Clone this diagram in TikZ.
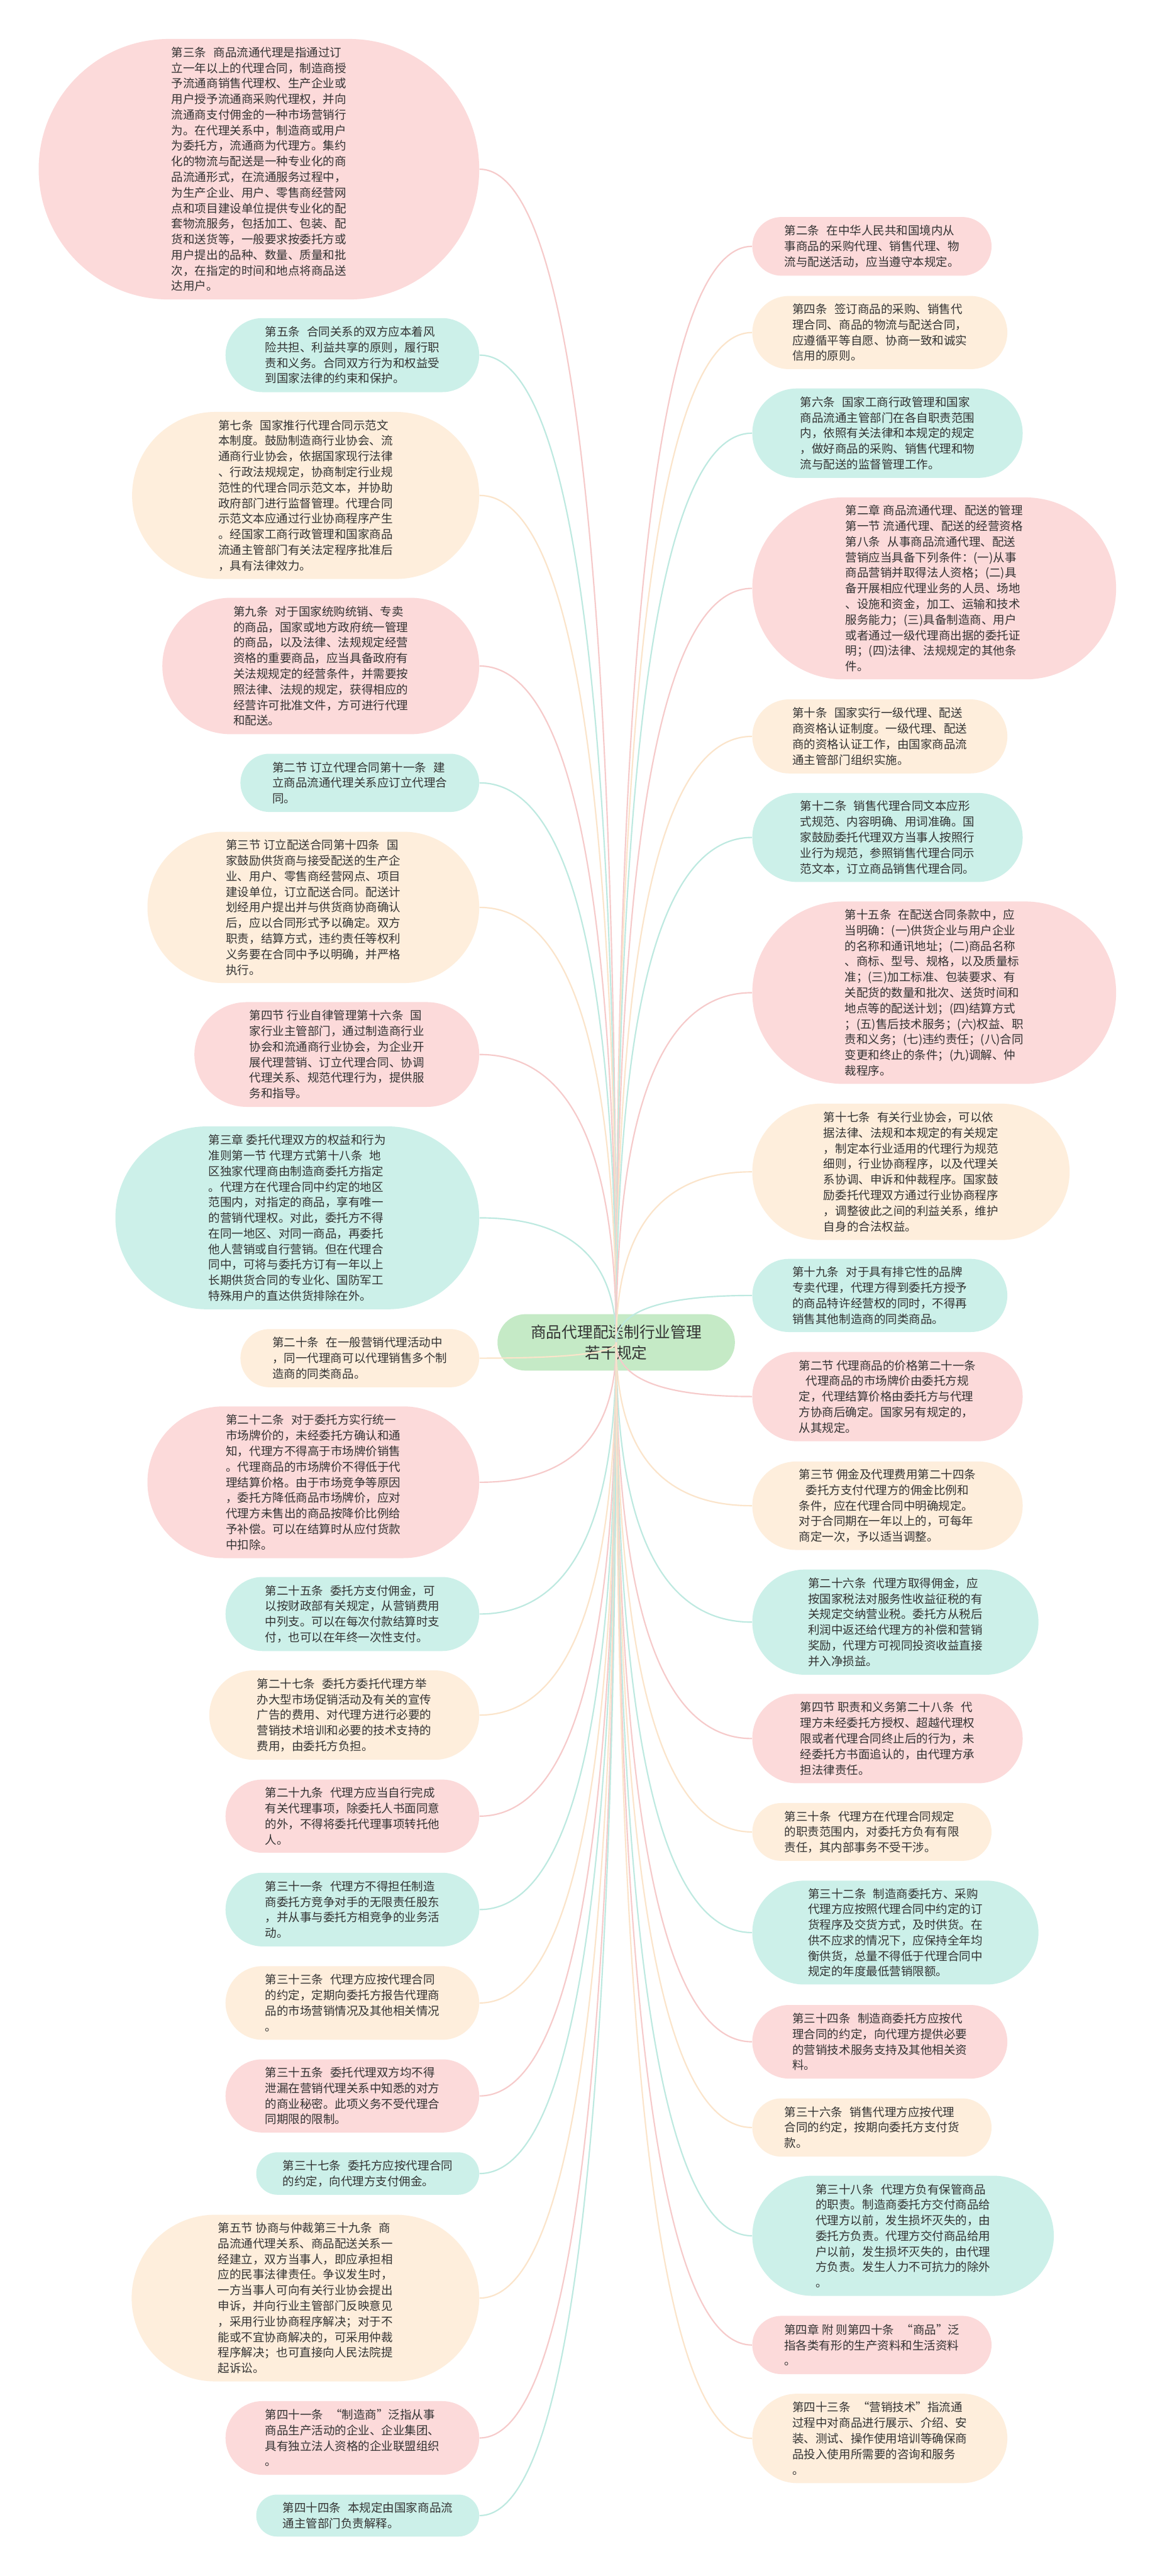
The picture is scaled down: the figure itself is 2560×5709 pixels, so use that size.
\documentclass[tikz,border=0pt]{standalone}
\usepackage{fontspec}
\setmainfont{Noto Sans CJK SC}
\usetikzlibrary{shapes.misc,calc}

\definecolor{pinkfill}{HTML}{FCDADA}
\definecolor{tealfill}{HTML}{CCF0E9}
\definecolor{creamfill}{HTML}{FEEEDC}
\definecolor{rootfill}{HTML}{C5EAC6}
\definecolor{pinkline}{HTML}{F6CACA}
\definecolor{tealline}{HTML}{BDE9E0}
\definecolor{creamline}{HTML}{FBE4CA}
\definecolor{textgray}{HTML}{333333}

\newcommand{\tsp}{\hspace{0.6em}}
\newcommand{\ind}{\hspace*{0.6em}}

\tikzset{
  leaf/.style={rounded rectangle, inner sep=0pt, text=textgray, align=left,
    font=\fontsize{7.34}{9.82}\selectfont},
  sz/.style 2 args={minimum width=#1cm, minimum height=#2cm},
  pinkbox/.style={leaf, fill=pinkfill},
  tealbox/.style={leaf, fill=tealfill},
  creambox/.style={leaf, fill=creamfill},
  rootbox/.style={rounded rectangle, inner sep=0pt, fill=rootfill, text=textgray,
    align=center, font=\fontsize{9.79}{12.8}\selectfont},
  link/.style={line width=0.85pt},
}

\begin{document}
\begin{tikzpicture}[x=0.01cm, y=-0.01cm]
  \fill[white] (0,0) rectangle (2560,5709);
  \useasboundingbox (0,0) rectangle (2560,5709);

  % centre
  \node[rootbox, sz={5.26}{1.25}] (root) at (1366,2975) {商品代理配送制行业管理\\若干规定};

  % left branch
  \node[pinkbox, sz={9.76}{5.77}, anchor=east] (l1) at (1063,375) {第三条\tsp 商品流通代理是指通过订\\立一年以上的代理合同，制造商授\\予流通商销售代理权、生产企业或\\用户授予流通商采购代理权，并向\\流通商支付佣金的一种市场营销行\\为。在代理关系中，制造商或用户\\为委托方，流通商为代理方。集约\\化的物流与配送是一种专业化的商\\品流通形式，在流通服务过程中，\\为生产企业、用户、零售商经营网\\点和项目建设单位提供专业化的配\\套物流服务，包括加工、包装、配\\货和送货等，一般要求按委托方或\\用户提出的品种、数量、质量和批\\次，在指定的时间和地点将商品送\\达用户。};
  \node[tealbox, sz={5.62}{1.64}, anchor=east] (l2) at (1063,787) {第五条\tsp 合同关系的双方应本着风\\险共担、利益共享的原则，履行职\\责和义务。合同双方行为和权益受\\到国家法律的约束和保护。};
  \node[creambox, sz={7.69}{3.70}, anchor=east] (l3) at (1063,1098) {第七条\tsp 国家推行代理合同示范文\\本制度。鼓励制造商行业协会、流\\通商行业协会，依据国家现行法律\\、行政法规规定，协商制定行业规\\范性的代理合同示范文本，并协助\\政府部门进行监督管理。代理合同\\示范文本应通过行业协商程序产生\\。经国家工商行政管理和国家商品\\流通主管部门有关法定程序批准后\\，具有法律效力。};
  \node[pinkbox, sz={7.02}{3.02}, anchor=east] (l4) at (1063,1476) {第九条\tsp 对于国家统购统销、专卖\\的商品，国家或地方政府统一管理\\的商品，以及法律、法规规定经营\\资格的重要商品，应当具备政府有\\关法规规定的经营条件，并需要按\\照法律、法规的规定，获得相应的\\经营许可批准文件，方可进行代理\\和配送。};
  \node[tealbox, sz={5.29}{1.29}, anchor=east] (l5) at (1063,1735) {第二节 订立代理合同第十一条\tsp 建\\立商品流通代理关系应订立代理合\\同。};
  \node[creambox, sz={7.35}{3.35}, anchor=east] (l6) at (1063,2011) {第三节 订立配送合同第十四条\tsp 国\\家鼓励供货商与接受配送的生产企\\业、用户、零售商经营网点、项目\\建设单位，订立配送合同。配送计\\划经用户提出并与供货商协商确认\\后，应以合同形式予以确定。双方\\职责，结算方式，违约责任等权利\\义务要在合同中予以明确，并严格\\执行。};
  \node[pinkbox, sz={6.31}{2.32}, anchor=east] (l7) at (1063,2337) {第四节 行业自律管理第十六条\tsp 国\\家行业主管部门，通过制造商行业\\协会和流通商行业协会，为企业开\\展代理营销、订立代理合同、协调\\代理关系、规范代理行为，提供服\\务和指导。};
  \node[tealbox, sz={8.06}{4.05}, anchor=east] (l8) at (1063,2699) {第三章 委托代理双方的权益和行为\\准则第一节 代理方式第十八条\tsp 地\\区独家代理商由制造商委托方指定\\。代理方在代理合同中约定的地区\\范围内，对指定的商品，享有唯一\\的营销代理权。对此，委托方不得\\在同一地区、对同一商品，再委托\\他人营销或自行营销。但在代理合\\同中，可将与委托方订有一年以上\\长期供货合同的专业化、国防军工\\特殊用户的直达供货排除在外。};
  \node[creambox, sz={5.29}{1.29}, anchor=east] (l9) at (1063,3010) {第二十条\tsp 在一般营销代理活动中\\，同一代理商可以代理销售多个制\\造商的同类商品。};
  \node[pinkbox, sz={7.35}{3.36}, anchor=east] (l10) at (1063,3285) {第二十二条\tsp 对于委托方实行统一\\市场牌价的，未经委托方确认和通\\知，代理方不得高于市场牌价销售\\。代理商品的市场牌价不得低于代\\理结算价格。由于市场竞争等原因\\，委托方降低商品市场牌价，应对\\代理方未售出的商品按降价比例给\\予补偿。可以在结算时从应付货款\\中扣除。};
  \node[tealbox, sz={5.62}{1.64}, anchor=east] (l11) at (1063,3577) {第二十五条\tsp 委托方支付佣金，可\\以按财政部有关规定，从营销费用\\中列支。可以在每次付款结算时支\\付，也可以在年终一次性支付。};
  \node[creambox, sz={5.98}{1.98}, anchor=east] (l12) at (1063,3801) {第二十七条\tsp 委托方委托代理方举\\办大型市场促销活动及有关的宣传\\广告的费用、对代理方进行必要的\\营销技术培训和必要的技术支持的\\费用，由委托方负担。};
  \node[pinkbox, sz={5.62}{1.62}, anchor=east] (l13) at (1063,4025) {第二十九条\tsp 代理方应当自行完成\\有关代理事项，除委托人书面同意\\的外，不得将委托代理事项转托他\\人。};
  \node[tealbox, sz={5.62}{1.63}, anchor=east] (l14) at (1063,4232) {第三十一条\tsp 代理方不得担任制造\\商委托方竞争对手的无限责任股东\\，并从事与委托方相竞争的业务活\\动。};
  \node[creambox, sz={5.62}{1.63}, anchor=east] (l15) at (1063,4439) {第三十三条\tsp 代理方应按代理合同\\的约定，定期向委托方报告代理商\\品的市场营销情况及其他相关情况\\。};
  \node[pinkbox, sz={5.62}{1.62}, anchor=east] (l16) at (1063,4645) {第三十五条\tsp 委托代理双方均不得\\泄漏在营销代理关系中知悉的对方\\的商业秘密。此项义务不受代理合\\同期限的限制。};
  \node[tealbox, sz={4.94}{0.94}, anchor=east] (l17) at (1063,4817) {第三十七条\tsp 委托方应按代理合同\\的约定，向代理方支付佣金。};
  \node[creambox, sz={7.70}{3.69}, anchor=east] (l18) at (1063,5093) {第五节 协商与仲裁第三十九条\tsp 商\\品流通代理关系、商品配送关系一\\经建立，双方当事人，即应承担相\\应的民事法律责任。争议发生时，\\一方当事人可向有关行业协会提出\\申诉，并向行业主管部门反映意见\\，采用行业协商程序解决；对于不\\能或不宜协商解决的，可采用仲裁\\程序解决；也可直接向人民法院提\\起诉讼。};
  \node[pinkbox, sz={5.62}{1.63}, anchor=east] (l19) at (1063,5403) {第四十一条\tsp “制造商”泛指从事\\商品生产活动的企业、企业集团、\\具有独立法人资格的企业联盟组织\\。};
  \node[tealbox, sz={4.94}{0.93}, anchor=east] (l20) at (1063,5575) {第四十四条\tsp 本规定由国家商品流\\通主管部门负责解释。};

  % right branch
  \node[pinkbox, sz={5.30}{1.30}, anchor=west] (r1) at (1667,546) {第二条\tsp 在中华人民共和国境内从\\事商品的采购代理、销售代理、物\\流与配送活动，应当遵守本规定。};
  \node[creambox, sz={5.65}{1.62}, anchor=west] (r2) at (1667,737) {第四条\tsp 签订商品的采购、销售代\\理合同、商品的物流与配送合同，\\应遵循平等自愿、协商一致和诚实\\信用的原则。};
  \node[tealbox, sz={5.99}{1.98}, anchor=west] (r3) at (1667,960) {第六条\tsp 国家工商行政管理和国家\\商品流通主管部门在各自职责范围\\内，依照有关法律和本规定的规定\\，做好商品的采购、销售代理和物\\流与配送的监督管理工作。};
  \node[pinkbox, sz={8.06}{4.03}, anchor=west] (r4) at (1667,1304) {第二章 商品流通代理、配送的管理\\第一节 流通代理、配送的经营资格\\第八条\tsp 从事商品流通代理、配送\\营销应当具备下列条件：(一)从事\\商品营销并取得法人资格；(二)具\\备开展相应代理业务的人员、场地\\、设施和资金，加工、运输和技术\\服务能力；(三)具备制造商、用户\\或者通过一级代理商出据的委托证\\明；(四)法律、法规规定的其他条\\件。};
  \node[creambox, sz={5.65}{1.64}, anchor=west] (r5) at (1667,1632) {第十条\tsp 国家实行一级代理、配送\\商资格认证制度。一级代理、配送\\商的资格认证工作，由国家商品流\\通主管部门组织实施。};
  \node[tealbox, sz={5.99}{1.97}, anchor=west] (r6) at (1667,1856) {第十二条\tsp 销售代理合同文本应形\\式规范、内容明确、用词准确。国\\家鼓励委托代理双方当事人按照行\\业行为规范，参照销售代理合同示\\范文本，订立商品销售代理合同。};
  \node[pinkbox, sz={8.06}{4.04}, anchor=west] (r7) at (1667,2200) {第十五条\tsp 在配送合同条款中，应\\当明确：(一)供货企业与用户企业\\的名称和通讯地址；(二)商品名称\\、商标、型号、规格，以及质量标\\准；(三)加工标准、包装要求、有\\关配货的数量和批次、送货时间和\\地点等的配送计划；(四)结算方式\\；(五)售后技术服务；(六)权益、职\\责和义务；(七)违约责任；(八)合同\\变更和终止的条件；(九)调解、仲\\裁程序。};
  \node[creambox, sz={7.03}{3.02}, anchor=west] (r8) at (1667,2597) {第十七条\tsp 有关行业协会，可以依\\据法律、法规和本规定的有关规定\\，制定本行业适用的代理行为规范\\细则，行业协商程序，以及代理关\\系协调、申诉和仲裁程序。国家鼓\\励委托代理双方通过行业协商程序\\，调整彼此之间的利益关系，维护\\自身的合法权益。};
  \node[tealbox, sz={5.65}{1.62}, anchor=west] (r9) at (1667,2871) {第十九条\tsp 对于具有排它性的品牌\\专卖代理，代理方得到委托方授予\\的商品特许经营权的同时，不得再\\销售其他制造商的同类商品。};
  \node[pinkbox, sz={5.99}{1.98}, anchor=west] (r10) at (1667,3095) {第二节 代理商品的价格第二十一条\\\ind 代理商品的市场牌价由委托方规\\定，代理结算价格由委托方与代理\\方协商后确定。国家另有规定的，\\从其规定。};
  \node[creambox, sz={5.99}{1.96}, anchor=west] (r11) at (1667,3337) {第三节 佣金及代理费用第二十四条\\\ind 委托方支付代理方的佣金比例和\\条件，应在代理合同中明确规定。\\对于合同期在一年以上的，可每年\\商定一次，予以适当调整。};
  \node[tealbox, sz={6.34}{2.33}, anchor=west] (r12) at (1667,3595) {第二十六条\tsp 代理方取得佣金，应\\按国家税法对服务性收益征税的有\\关规定交纳营业税。委托方从税后\\利润中返还给代理方的补偿和营销\\奖励，代理方可视同投资收益直接\\并入净损益。};
  \node[pinkbox, sz={5.99}{1.98}, anchor=west] (r13) at (1667,3853) {第四节 职责和义务第二十八条\tsp 代\\理方未经委托方授权、超越代理权\\限或者代理合同终止后的行为，未\\经委托方书面追认的，由代理方承\\担法律责任。};
  \node[creambox, sz={5.30}{1.28}, anchor=west] (r14) at (1667,4060) {第三十条\tsp 代理方在代理合同规定\\的职责范围内，对委托方负有有限\\责任，其内部事务不受干涉。};
  \node[tealbox, sz={6.34}{2.30}, anchor=west] (r15) at (1667,4283) {第三十二条\tsp 制造商委托方、采购\\代理方应按照代理合同中约定的订\\货程序及交货方式，及时供货。在\\供不应求的情况下，应保持全年均\\衡供货，总量不得低于代理合同中\\规定的年度最低营销限额。};
  \node[pinkbox, sz={5.65}{1.63}, anchor=west] (r16) at (1667,4525) {第三十四条\tsp 制造商委托方应按代\\理合同的约定，向代理方提供必要\\的营销技术服务支持及其他相关资\\料。};
  \node[creambox, sz={5.30}{1.29}, anchor=west] (r17) at (1667,4715) {第三十六条\tsp 销售代理方应按代理\\合同的约定，按期向委托方支付货\\款。};
  \node[tealbox, sz={6.68}{2.66}, anchor=west] (r18) at (1667,4955) {第三十八条\tsp 代理方负有保管商品\\的职责。制造商委托方交付商品给\\代理方以前，发生损坏灭失的，由\\委托方负责。代理方交付商品给用\\户以前，发生损坏灭失的，由代理\\方负责。发生人力不可抗力的除外\\。};
  \node[pinkbox, sz={5.30}{1.29}, anchor=west] (r19) at (1667,5197) {第四章 附 则第四十条\tsp “商品”泛\\指各类有形的生产资料和生活资料\\。};
  \node[creambox, sz={5.65}{1.98}, anchor=west] (r20) at (1667,5404) {第四十三条\tsp “营销技术”指流通\\过程中对商品进行展示、介绍、安\\装、测试、操作使用培训等确保商\\品投入使用所需要的咨询和服务\\。};

  % connectors, vertical at the centre, level at each leaf
  \foreach \nd/\col in {l1/pinkline, l2/tealline, l3/creamline, l4/pinkline, l5/tealline,
      l6/creamline, l7/pinkline, l8/tealline, l9/creamline, l10/pinkline, l11/tealline,
      l12/creamline, l13/pinkline, l14/tealline, l15/creamline, l16/pinkline,
      l17/tealline, l18/creamline, l19/pinkline, l20/tealline} {
    \draw[link, draw=\col] (root.center)
      .. controls ($(root.center)!0.667!(root.center |- \nd.east)$)
      and ($(\nd.east)!0.667!(root.center |- \nd.east)$) .. (\nd.east);
  }
  \foreach \nd/\col in {r1/pinkline, r2/creamline, r3/tealline, r4/pinkline, r5/creamline,
      r6/tealline, r7/pinkline, r8/creamline, r9/tealline, r10/pinkline, r11/creamline,
      r12/tealline, r13/pinkline, r14/creamline, r15/tealline, r16/pinkline,
      r17/creamline, r18/tealline, r19/pinkline, r20/creamline} {
    \draw[link, draw=\col] (root.center)
      .. controls ($(root.center)!0.667!(root.center |- \nd.west)$)
      and ($(\nd.west)!0.667!(root.center |- \nd.west)$) .. (\nd.west);
  }
\end{tikzpicture}
\end{document}
